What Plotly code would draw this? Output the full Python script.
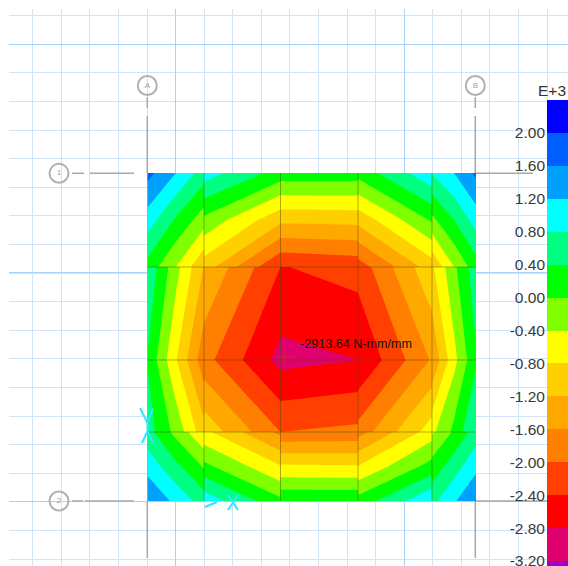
import plotly.graph_objects as go

# Slab mesh node positions (element edges are doubled, the field jumps across elements)
mesh_x = [147.5, 204, 280.5, 358, 432, 476]
mesh_y = [173, 267, 360, 432, 501]
eps = 0.02
node_x = [147.5, 175.75, 204 - eps, 204 + eps, 280.5 - eps, 280.5 + eps, 358 - eps, 358 + eps, 432 - eps, 432 + eps, 454, 476]
node_y = [173, 220, 267 - eps, 267 + eps, 360, 432 - eps, 432 + eps, 466, 501]

# Moment values (E+3 N-mm/mm)
row_173 = [1.73, 1.20, 0.60, 1.00, 0.23, 0.23, 0.22, 0.15, 1.10, 0.82, 1.20, 1.68]
row_220 = [1.01, 0.35, -0.23, -0.10, -1.10, -1.10, -1.07, -1.07, 0.05, -0.10, 0.40, 0.97]
row_267a = [0.25, -0.40, -1.15, -1.00, -2.40, -2.40, -2.28, -2.20, -1.00, -1.15, -0.40, 0.22]
row_267b = [0.72, -0.25, -1.22, -1.22, -2.40, -2.42, -2.25, -2.25, -0.87, -0.87, -0.09, 0.65]
row_360 = [0.37, -0.76, -1.85, -1.85, -2.93, -2.93, -2.80, -2.80, -1.56, -1.55, -0.53, 0.35]
row_432a = [0.60, -0.12, -1.05, -0.93, -2.00, -2.00, -1.90, -1.85, -0.60, -0.50, 0.10, 0.84]
row_432b = [0.55, -0.12, -0.75, -0.70, -1.70, -1.95, -1.90, -1.75, -0.60, -0.45, 0.05, 0.60]
row_466 = [1.05, 0.50, -0.05, 0.10, -0.78, -0.75, -0.78, -0.80, 0.15, 0.15, 0.61, 1.08]
row_501 = [1.58, 1.10, 0.60, 1.05, 0.10, 0.35, 0.35, 0.16, 1.16, 0.67, 1.15, 1.62]

# Legend
band_values = [2.2, 1.8, 1.4, 1.0, 0.6, 0.2, -0.2, -0.6, -1.0, -1.4, -1.8, -2.2, -2.6, -3.0, -3.4]
band_colors = ["#0000ff", "#0060ff", "#00a0ff", "#00ffff", "#00ff80", "#00ff00", "#80ff00", "#ffff00",
               "#ffd000", "#ffa800", "#ff8000", "#ff4000", "#ff0000", "#e0006e", "#a000c0"]
tick_values = [2.0, 1.6, 1.2, 0.8, 0.4, 0.0, -0.4, -0.8, -1.2, -1.6, -2.0, -2.4, -2.8, -3.2]
tick_labels = ["2.00", "1.60", "1.20", "0.80", "0.40", "0.00", "-0.40", "-0.80", "-1.20", "-1.60",
               "-2.00", "-2.40", "-2.80", "-3.20"]

bubble_x = [147.3, 475.3, 59, 59]
bubble_y = [85.5, 85.5, 173.3, 501]
bubble_text = ["A", "B", "1", "2"]

ZMIN, ZMAX = -3.6, 2.4
n = len(band_colors)
scale = []
for i, c in enumerate(reversed(band_colors)):
    scale += [[i / n, c], [(i + 1) / n, c]]

fig = go.Figure()

fig.add_trace(go.Contour(
    x=node_x, y=node_y,
    z=[row_173, row_220, row_267a, row_267b, row_360, row_432a, row_432b, row_466, row_501],
    colorscale=scale, zmin=ZMIN, zmax=ZMAX, showscale=False, autocontour=False,
    contours=dict(start=-3.2, end=2.0, size=0.4, coloring="fill", showlines=False),
    line=dict(width=0, smoothing=0), hoverinfo="skip"))

# element mesh
mx, my = [], []
for x in mesh_x[1:-1]:
    mx += [x, x, None]; my += [mesh_y[0], mesh_y[-1], None]
for y in mesh_y[1:-1]:
    mx += [mesh_x[0], mesh_x[-1], None]; my += [y, y, None]
fig.add_trace(go.Scatter(x=mx, y=my, mode="lines", line=dict(color="rgba(70,70,0,0.45)", width=1), hoverinfo="skip"))

# grid-line leaders
lead_x = [147.3, 147.3, None, 147.3, 147.3, None, 475.3, 475.3, None, 475.3, 475.3, None,
          72, 84, None, 90, 134, None, 72, 83, None, 85, 134, None, 476, 533, None, 476, 547, None,
          147.3, 147.3, None, 475.3, 475.3]
lead_y = [97, 108, None, 116, 173, None, 97, 108, None, 116, 173, None,
          173.3, 173.3, None, 173.3, 173.3, None, 501, 501, None, 501, 501, None, 173.3, 173.3, None, 501, 501, None,
          501, 558, None, 501, 558]
fig.add_trace(go.Scatter(x=lead_x, y=lead_y, mode="lines", line=dict(color="#a8a8a8", width=1.5), hoverinfo="skip"))

fig.add_trace(go.Scatter(
    x=bubble_x, y=bubble_y, mode="markers+text", text=bubble_text, textposition="middle center",
    textfont=dict(family="Liberation Sans", size=8, color="#a0a0a0"),
    marker=dict(size=19, color="rgba(255,255,255,0)", line=dict(color="#b0b0b0", width=2)), hoverinfo="skip"))

# cyan support marks
cy_x = [140, 147.5, 153, None, 147.5, 147.5, None, 142, 147.5, 153, None, 228, 238, None, 238, 228, None, 205, 217]
cy_y = [408, 423, 408, None, 423, 431, None, 443, 431, 443, None, 495, 510, None, 495, 510, None, 507, 502]
fig.add_trace(go.Scatter(x=cy_x, y=cy_y, mode="lines", line=dict(color="#2de8ff", width=2), hoverinfo="skip", cliponaxis=False))

# peak marker and label
fig.add_trace(go.Scatter(x=[285], y=[357], mode="markers",
                         marker=dict(symbol="cross-thin", size=11, line=dict(color="#d8203c", width=1)), hoverinfo="skip"))
fig.add_annotation(x=298, y=344, xref="x", yref="y", text="-2913.64 N-mm/mm", showarrow=False, xanchor="left",
                   yanchor="middle", font=dict(family="Liberation Sans", size=12.6, color="#111111"))

# legend bar
fig.add_trace(go.Heatmap(x=[0], y=band_values, z=[[v] for v in band_values], colorscale=scale, zmin=ZMIN, zmax=ZMAX,
                         showscale=False, xaxis="x2", yaxis="y2", hoverinfo="skip"))
fig.add_annotation(x=568, y=90, xref="x", yref="y", text="E+3", showarrow=False, xanchor="right", yanchor="middle",
                   font=dict(family="Liberation Sans", size=15.5, color="#333333"))

W, H, L, T = 568, 566, 9, 9
PW, PH = W - L, H - T
grid_minor = "#cfe4fb"
grid_major = "#a9d2fa"
fig.update_layout(
    width=W, height=H, margin=dict(l=L, r=0, t=T, b=0, autoexpand=False), showlegend=False,
    paper_bgcolor="white", plot_bgcolor="white",
    xaxis=dict(range=[L, W], domain=[0, 1], showticklabels=False, ticks="", zeroline=False,
               showgrid=True, gridcolor=grid_major, gridwidth=1, tick0=175.7, dtick=228.57,
               minor=dict(showgrid=True, gridcolor=grid_minor, gridwidth=1, tick0=175.7, dtick=28.57, ticks="")),
    yaxis=dict(range=[H, T], domain=[0, 1], showticklabels=False, ticks="", zeroline=False,
               showgrid=True, gridcolor=grid_major, gridwidth=1, tick0=44.3, dtick=228.57,
               minor=dict(showgrid=True, gridcolor=grid_minor, gridwidth=1, tick0=44.3, dtick=28.6, ticks="")),
    xaxis2=dict(domain=[(547 - L) / PW, 1], range=[-0.5, 0.5], visible=False, anchor="y2"),
    yaxis2=dict(domain=[0, (H - 100) / PH], range=[-3.26, 2.4], anchor="x2", side="left", showgrid=False,
                zeroline=False, showline=False, ticks="", tickmode="array", tickvals=tick_values, ticktext=tick_labels,
                ticklabeloverflow="allow", ticklabelstandoff=1,
                tickfont=dict(family="Liberation Sans", size=15.5, color="#3a3a3a")),
)
fig.write_html("out.html", post_script="document.body.style.margin='0';", config=dict(displayModeBar=False))
